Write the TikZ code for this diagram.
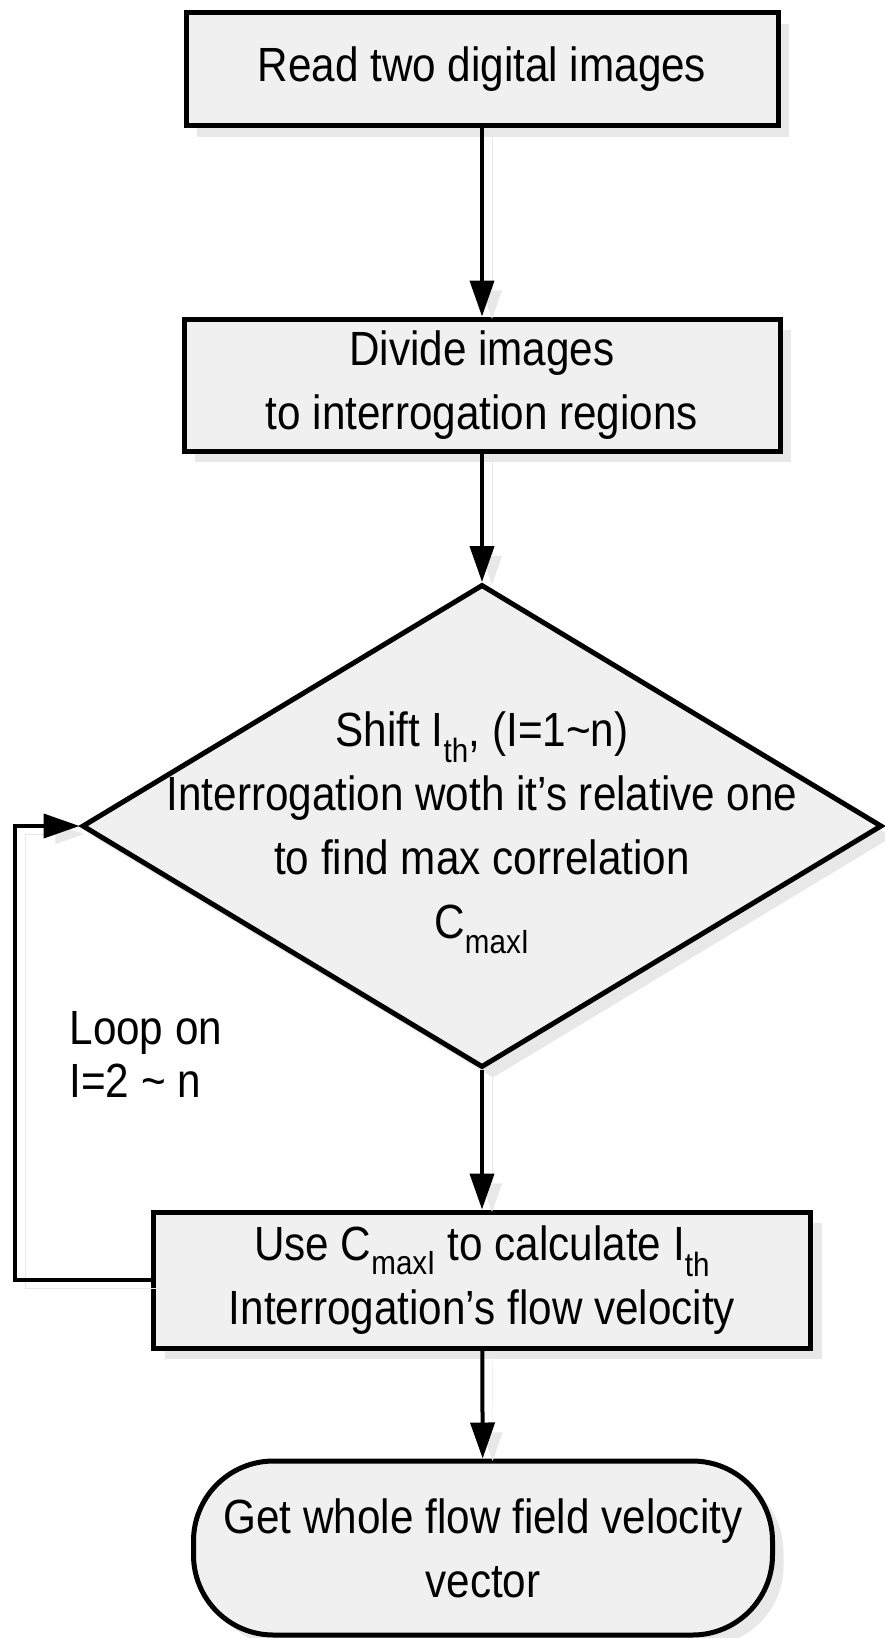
\documentclass[tikz,border=0pt]{standalone}
\usepackage{fontspec}
\setmainfont[FakeStretch=0.88]{Liberation Sans}
\usetikzlibrary{arrows.meta,shapes.geometric,shadows}
\definecolor{boxgray}{HTML}{F0F0F0}
\definecolor{shadegray}{HTML}{E8E8E8}

\begin{document}
\begin{tikzpicture}[x=1pt,y=-1pt,
  every node/.style={font=\fontsize{48}{64}\selectfont},
  proc/.style={draw=black,line width=5pt,fill=boxgray,align=center,inner sep=0pt,
    drop shadow={shadow xshift=11pt,shadow yshift=-11pt,fill=shadegray,opacity=1}},
  flow/.style={line width=4pt,-{Triangle[length=36pt,width=24pt]},
    preaction={draw=shadegray,transform canvas={xshift=10pt,yshift=-8pt}}}]

\useasboundingbox (0,0) rectangle (884,1638);
\fill[white] (0,0) rectangle (884,1638);

\node[proc,minimum width=592pt,minimum height=113pt] (read) at (482,69) {Read two digital images};

\node[proc,minimum width=596pt,minimum height=132pt] (divide) at (482,385) {Divide images\\to interrogation regions};

\node[proc,diamond,minimum width=800pt,minimum height=483pt] (shift) at (482,826) {};
\node[align=center] (shifttxt) at (482,833) {Shift I\textsubscript{th}, (I=1\textasciitilde n)\\Interrogation woth it’s relative one\\to find max correlation\\C\textsubscript{maxI}};

\node[proc,minimum width=657pt,minimum height=136pt] (use) at (482,1280) {Use C\textsubscript{maxI} to calculate I\textsubscript{th}\\Interrogation’s flow velocity};

\node[proc,rounded corners=80pt,minimum width=579pt,minimum height=174pt] (get) at (483,1548) {Get whole flow field velocity\\vector};

\node[align=left,anchor=west,font=\fontsize{48}{53}\selectfont] (looplbl) at (66,1054) {Loop on\\I=2 \textasciitilde\ n};

\coordinate (loopx) at (15,0);

\draw[flow] (read) -- (divide);
\draw[flow] (divide) -- (shift);
\draw[flow] (shift) -- (use);
\draw[flow] (use) -- (get);
\draw[flow] (use.west) -- (use.west -| loopx) |- (shift.west);

\end{tikzpicture}
\end{document}
